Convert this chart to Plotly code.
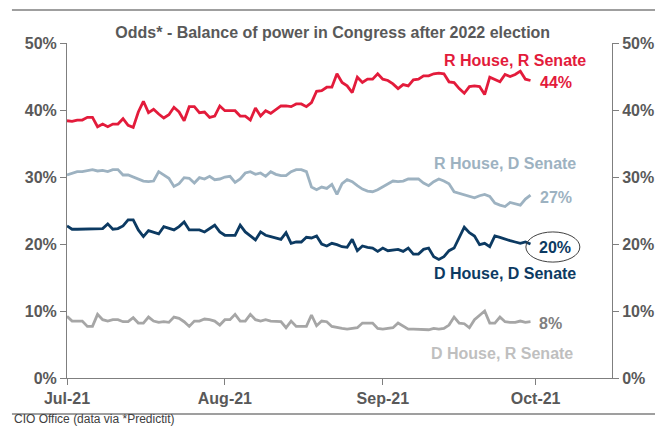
import pandas as pd
import plotly.graph_objects as go

dates = pd.date_range("2021-07-01", "2021-09-30", freq="D")

r_house_r_senate = [38.4, 38.3, 38.5, 38.5, 38.9, 38.9, 37.5, 37.9, 37.5, 37.9, 37.9, 38.7, 37.7, 37.4, 39.7,
                    41.3, 39.6, 40.1, 39.4, 38.8, 39.3, 40.4, 39.7, 38.4, 40.5, 40.5, 39.6, 39.7, 38.9, 39.1,
                    40.6, 39.9, 39.9, 39.9, 39.1, 39.1, 38.5, 40.3, 39.1, 39.9, 39.5, 40.0, 40.6, 40.6, 40.5,
                    40.9, 40.9, 40.5, 41.1, 42.8, 42.9, 43.4, 43.4, 45.4, 44.1, 43.6, 42.6, 44.9, 44.1,
                    44.6, 44.6, 45.4, 44.6, 44.4, 43.9, 43.2, 43.8, 43.6, 44.5, 44.6, 45.1, 45.1, 45.4, 45.5,
                    45.4, 44.2, 44.1, 43.2, 42.5, 43.5, 43.6, 43.5, 42.3, 44.9, 44.6, 44.2, 45.3, 45.0, 45.3,
                    45.8, 44.6, 44.4]

r_house_d_senate = [30.3, 30.6, 30.8, 30.8, 31.0, 31.1, 30.9, 31.0, 30.8, 31.1, 31.1, 30.3, 30.3, 30.0, 29.7,
                    29.4, 29.3, 29.4, 30.8, 30.3, 29.8, 28.6, 29.0, 29.9, 29.8, 29.1, 29.9, 29.7, 30.1, 29.6,
                    29.7, 30.0, 30.1, 29.2, 29.7, 30.6, 30.8, 30.4, 30.6, 30.1, 30.8, 30.4, 30.2, 30.2, 30.8,
                    31.1, 31.1, 30.8, 28.5, 28.1, 28.5, 28.3, 28.9, 27.4, 29.0, 29.6, 29.3, 28.7, 28.2,
                    27.9, 27.8, 28.1, 28.5, 28.9, 29.4, 29.3, 29.4, 29.7, 29.7, 29.7, 29.1, 28.7, 29.3, 29.7,
                    29.4, 29.0, 27.8, 27.6, 27.3, 27.2, 26.9, 27.2, 27.4, 27.1, 26.1, 25.8, 25.6, 26.2, 26.0,
                    25.8, 26.7, 27.3]

d_house_d_senate = [22.7, 22.2, 22.2, 22.2, 22.3, 22.3, 22.2, 22.3, 23.0, 22.2, 22.3, 22.7, 23.6, 23.6, 22.1,
                    21.1, 22.0, 21.8, 21.5, 22.6, 22.4, 22.1, 22.6, 23.3, 22.1, 22.1, 22.1, 21.8, 22.3, 22.8,
                    21.8, 21.3, 21.3, 21.3, 22.8, 21.8, 21.2, 20.6, 21.8, 21.3, 21.1, 20.9, 20.7, 21.7, 20.1,
                    20.3, 20.3, 21.0, 20.9, 21.2, 20.0, 19.7, 20.1, 19.9, 19.6, 19.5, 20.7, 19.0, 19.7,
                    19.5, 19.4, 18.9, 19.4, 19.0, 19.1, 19.2, 18.9, 19.4, 18.5, 18.5, 19.2, 19.4, 18.1, 17.7,
                    18.1, 19.0, 19.4, 21.0, 22.5, 21.7, 21.2, 19.9, 20.1, 19.6, 21.2, 21.0, 20.7, 20.5, 20.3,
                    20.1, 20.3, 20.0]

d_house_r_senate = [9.2, 8.5, 8.5, 8.5, 7.7, 7.7, 9.5, 8.7, 8.5, 8.7, 8.7, 8.4, 8.4, 9.0, 8.2,
                    8.2, 9.1, 8.5, 8.3, 8.4, 8.3, 9.1, 8.9, 8.4, 7.7, 8.5, 8.5, 8.8, 8.7, 8.5,
                    7.9, 8.7, 8.7, 9.5, 8.5, 8.5, 9.5, 8.7, 8.5, 8.7, 8.5, 8.5, 8.4, 7.5, 8.5,
                    7.7, 7.7, 7.7, 9.4, 7.8, 8.5, 8.4, 7.7, 7.5, 7.4, 7.3, 7.4, 7.5, 8.2,
                    8.2, 8.2, 7.4, 7.3, 7.4, 7.5, 8.2, 7.8, 7.3, 7.3, 7.3, 7.3, 7.2, 7.4, 7.3,
                    7.4, 7.9, 9.1, 8.2, 8.1, 7.5, 8.7, 9.4, 10.0, 8.2, 8.2, 9.1, 8.4, 8.3, 8.3,
                    8.5, 8.3, 8.4]

series_names = ["R House, R Senate", "R House, D Senate", "D House, D Senate", "D House, R Senate"]
tick_dates = ["2021-07-01", "2021-08-01", "2021-09-01", "2021-10-01"]
tick_labels = ["Jul-21", "Aug-21", "Sep-21", "Oct-21"]
y_ticks = [0, 10, 20, 30, 40, 50]
y_tick_labels = ["0%", "10%", "20%", "30%", "40%", "50%"]

RED = "#E31B3B"
LBLUE = "#9DB2C1"
DBLUE = "#0C3A62"
GRAY = "#A6A6A6"
AXIS = "#7F7F7F"
TXT = "#595959"
FONT = "Liberation Sans, Arial, sans-serif"

fig = go.Figure()
for vals, name, col in [(d_house_r_senate, series_names[3], GRAY),
                        (r_house_d_senate, series_names[1], LBLUE),
                        (d_house_d_senate, series_names[2], DBLUE),
                        (r_house_r_senate, series_names[0], RED)]:
    fig.add_trace(go.Scatter(x=dates, y=vals, mode="lines", name=name,
                             line=dict(color=col, width=2.8), showlegend=False))
# same data mirrored on the right-hand axis (hidden line) so the axis is drawn
fig.add_trace(go.Scatter(x=dates, y=d_house_r_senate, mode="lines", yaxis="y2",
                         line=dict(width=0), opacity=0, showlegend=False, hoverinfo="skip"))

axis_common = dict(showline=True, linecolor=AXIS, linewidth=1, ticks="outside", ticklen=6,
                   tickcolor=AXIS, showgrid=False, zeroline=False, automargin=False,
                   tickfont=dict(family=FONT, size=16, color=TXT))

fig.update_layout(
    width=655, height=428,
    margin=dict(l=67, r=43, t=43, b=50, autoexpand=False),
    paper_bgcolor="white", plot_bgcolor="white",
    title=dict(text="<b>Odds* - Balance of power in Congress after 2022 election</b>",
               x=0.508, xanchor="center", y=1 - 32 / 428, yanchor="middle",
               font=dict(family=FONT, size=16, color=TXT)),
    xaxis=dict(type="date", range=["2021-07-01", "2021-10-16"],
               tickvals=tick_dates, ticktext=["<b>%s</b>" % t for t in tick_labels], **axis_common),
    yaxis=dict(range=[0, 50], tickvals=y_ticks, ticktext=["<b>%s</b>" % t for t in y_tick_labels],
               **axis_common),
    yaxis2=dict(range=[0, 50], overlaying="y", side="right", tickvals=y_ticks,
                ticktext=["<b>%s</b>" % t for t in y_tick_labels], **axis_common),
)

def pct(v):
    return "<b>%d%%</b>" % round(v)

annots = [
    (series_names[0], 0.822, 0.949, RED),
    (pct(r_house_r_senate[-1]), 0.897, 0.881, RED),
    (series_names[1], 0.804, 0.639, LBLUE),
    (pct(r_house_d_senate[-1]), 0.897, 0.540, LBLUE),
    (pct(d_house_d_senate[-1]), 0.895, 0.391, DBLUE),
    (series_names[2], 0.804, 0.313, DBLUE),
    (pct(d_house_r_senate[-1]), 0.888, 0.164, "#808080"),
    (series_names[3], 0.798, 0.072, "#BFBFBF"),
]
for text, x, y, col in annots:
    if not text.startswith("<b>"):
        text = "<b>%s</b>" % text
    fig.add_annotation(text=text, x=x, y=y, xref="paper", yref="paper", showarrow=False,
                       xanchor="center", yanchor="middle",
                       font=dict(family=FONT, size=16, color=col))

# ellipse around the 20% label
fig.add_shape(type="circle", xref="paper", yref="paper", x0=0.842, x1=0.941, y0=0.346, y1=0.436,
              line=dict(color="#404040", width=1))

# frame lines
fig.add_shape(type="line", xref="paper", yref="paper", x0=-0.101, x1=1.09, y0=1.0985, y1=1.0985,
              line=dict(color="#7F7F7F", width=1.5))
fig.add_shape(type="line", xref="paper", yref="paper", x0=-0.101, x1=1.09, y0=-0.1075, y1=-0.1075,
              line=dict(color="#7F7F7F", width=1.5))

fig.add_annotation(text="CIO Office (data via *Predictit)", x=-0.101, y=-0.149, xref="paper", yref="paper",
                   showarrow=False, xanchor="left", yanchor="bottom",
                   font=dict(family=FONT, size=12, color="#404040"))

fig.write_html("out.html")
